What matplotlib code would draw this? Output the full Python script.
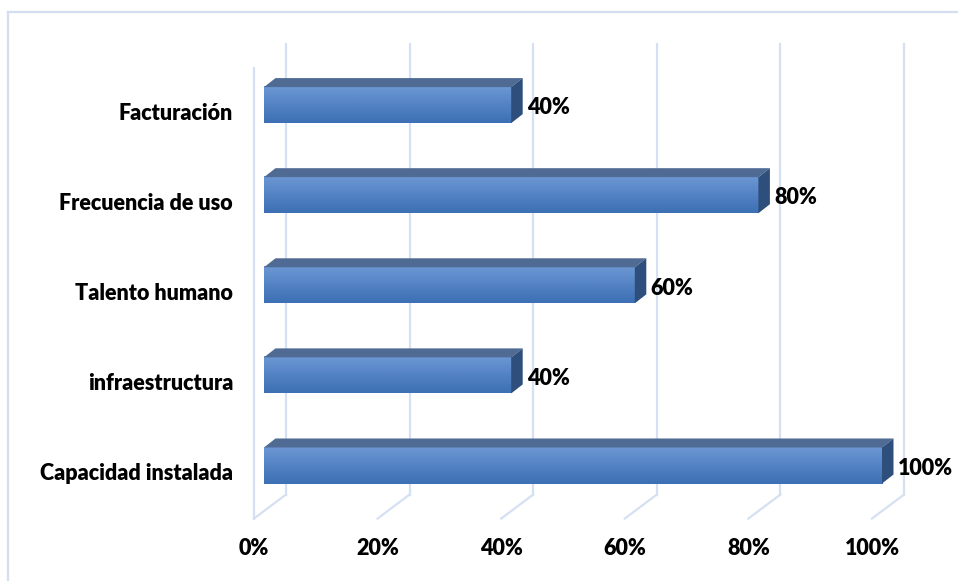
import numpy as np
import matplotlib
matplotlib.use('Agg')
import matplotlib.pyplot as plt
from matplotlib.patches import Polygon
from matplotlib.lines import Line2D

categorias = ['Capacidad instalada', 'infraestructura', 'Talento humano',
              'Frecuencia de uso', 'Facturación']
valores = [100, 40, 60, 80, 40]
ticks = [0, 20, 40, 60, 80, 100]
etiquetas_ticks = ['0%', '20%', '40%', '60%', '80%', '100%']

W, H = 958, 581
px_x = 6.18    # pixels per percent
px_y = 90.1    # pixels per category step
x0_px, y0_px = 264, 465.5   # front face of the bars: 0% / first category

# depth offsets (pixels, right / up) converted to data units
def off(dx, dy):
	return dx / px_x, dy / px_y

fw = off(-10, -8)    # front plane of the walls
bw = off(22, 16)     # back wall
bb = off(11.5, 9)    # back face of the bars
hb = 0.2             # half height of a bar

grid_col = '#D5E1F2'
font = ['Lato', 'DejaVu Sans']
fs = 15.5
fw_txt = 'heavy'

fig = plt.figure(figsize=(W / 100, H / 100), dpi=100)
ax = fig.add_axes([0, 0, 1, 1])
ax.set_xlim(-x0_px / px_x, (W - x0_px) / px_x)
ax.set_ylim((y0_px - H) / px_y, y0_px / px_y)
ax.axis('off')

# outer frame of the chart area
fig.add_artist(Line2D([8 / W, 1], [1 - 12 / H, 1 - 12 / H], color='#D3DEF0', lw=1.6))
fig.add_artist(Line2D([8 / W, 8 / W], [0, 1 - 12 / H], color='#D3DEF0', lw=1.6))

ylo, yhi = -0.5, len(categorias) - 0.5

# back wall gridlines + floor diagonals
for t in ticks:
	ax.plot([t + bw[0], t + bw[0]], [ylo + bw[1], yhi + bw[1]], color=grid_col, lw=1.6, zorder=1)
	ax.plot([t + bw[0], t + fw[0]], [ylo + bw[1], ylo + fw[1]], color=grid_col, lw=1.6, zorder=1)
# front edge of the side wall
ax.plot([fw[0], fw[0]], [ylo + fw[1], yhi + fw[1]], color=grid_col, lw=1.6, zorder=1)

grad = np.linspace(0, 1, 64)
c_top = np.array([108, 151, 212]) / 255.
c_bot = np.array([60, 111, 180]) / 255.
img = (c_top[None, :] * (1 - grad[:, None]) + c_bot[None, :] * grad[:, None])[:, None, :]

for i, v in enumerate(valores):
	ax.imshow(img, extent=(0, v, i - hb, i + hb), aspect='auto', origin='upper',
	          interpolation='bilinear', zorder=3)
	top = [(0, i + hb), (v, i + hb), (v + bb[0], i + hb + bb[1]), (bb[0], i + hb + bb[1])]
	ax.add_patch(Polygon(top, closed=True, fc='#4F6B94', ec='none', zorder=3))
	side = [(v, i - hb), (v, i + hb), (v + bb[0], i + hb + bb[1]), (v + bb[0], i - hb + bb[1])]
	ax.add_patch(Polygon(side, closed=True, fc='#2E4F7C', ec='none', zorder=3))
	ax.text(v + bb[0] + 4 / px_x, i - 0.03, '%d%%' % v, ha='left', va='center',
	        fontsize=fs, fontweight=fw_txt, family=font, color='black', zorder=4)
	ax.text(-31 / px_x, i + fw[1], categorias[i], ha='right', va='center',
	        fontsize=fs, fontweight=fw_txt, family=font, color='black')

for t, lab in zip(ticks, etiquetas_ticks):
	ax.text(t + fw[0], ylo + fw[1] - 30 / px_y, lab, ha='center', va='center',
	        fontsize=fs, fontweight=fw_txt, family=font, color='black')

ax.set_xlim(-x0_px / px_x, (W - x0_px) / px_x)
ax.set_ylim((y0_px - H) / px_y, y0_px / px_y)

fig.savefig('out.png', dpi=100)
